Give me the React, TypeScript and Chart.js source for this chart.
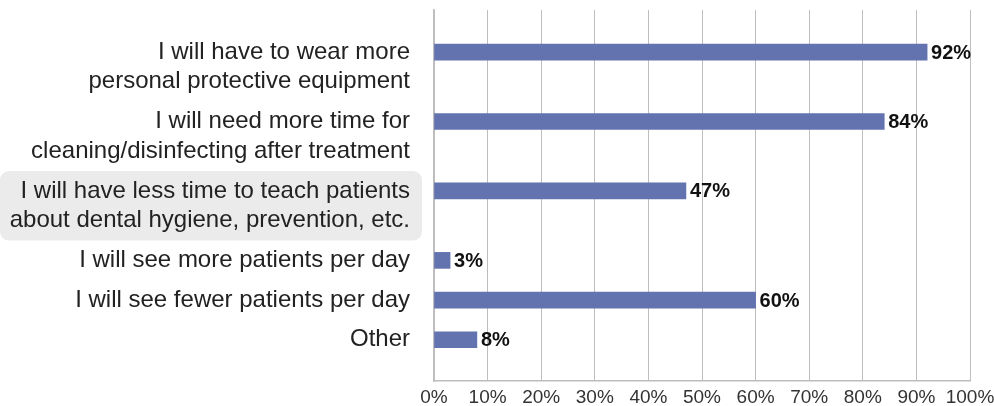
import { useEffect, useRef } from "react";
import { Chart, registerables } from "chart.js";

Chart.register(...registerables);

const categories: string[][] = [
  ["I will have to wear more", "personal protective equipment"],
  ["I will need more time for", "cleaning/disinfecting after treatment"],
  ["I will have less time to teach patients", "about dental hygiene, prevention, etc."],
  ["I will see more patients per day"],
  ["I will see fewer patients per day"],
  ["Other"],
];
const values: number[] = [92, 84, 47, 3, 60, 8];
const xTicks: number[] = [0, 10, 20, 30, 40, 50, 60, 70, 80, 90, 100];
const highlightedIndex = 2;

// layout of label blocks on the y scale (units)
const LINE_STEP = 0.75;
const ROW_STEP = 1;
const firstLinePos: number[] = [];
{
  let acc = 0;
  categories.forEach((c) => {
    firstLinePos.push(acc);
    acc += (c.length - 1) * LINE_STEP + ROW_STEP;
  });
}
const centerPos = categories.map((c, i) => firstLinePos[i] + ((c.length - 1) * LINE_STEP) / 2);
const Y_MIN = -1.06;
const Y_MAX = firstLinePos[firstLinePos.length - 1] + 1.04;

const FONT = "'Liberation Sans', Arial, sans-serif";
const LABEL_SIZE = 24;
const LINE_HEIGHT_PX = 29.8;

export default function App() {
  const ref = useRef<HTMLCanvasElement | null>(null);

  useEffect(() => {
    document.body.style.margin = "0";
    const canvas = ref.current!;
    const highlightPlugin = {
      id: "highlight",
      beforeDraw(chart: any) {
        const y = chart.scales.y;
        const ctx = chart.ctx;
        const lines = categories[highlightedIndex].length;
        const cy = y.getPixelForValue(centerPos[highlightedIndex]);
        const h = lines * LINE_HEIGHT_PX + 10;
        const x0 = 0;
        const x1 = y.right - 12;
        ctx.save();
        ctx.fillStyle = "#ebebeb";
        ctx.beginPath();
        (ctx as any).roundRect(x0, cy - h / 2, x1 - x0, h, 9);
        ctx.fill();
        ctx.restore();
      },
    };
    const valueLabels = {
      id: "valueLabels",
      afterDraw(chart: any) {
        const ctx = chart.ctx;
        const meta = chart.getDatasetMeta(0);
        ctx.save();
        ctx.font = `bold 20px ${FONT}`;
        ctx.fillStyle = "#111";
        ctx.textAlign = "left";
        ctx.textBaseline = "middle";
        meta.data.forEach((bar: any, i: number) => {
          ctx.fillText(values[i] + "%", bar.x + 4, bar.y + 1);
        });
        ctx.restore();
      },
    };

    const chart = new Chart(canvas, {
      type: "bar",
      data: {
        datasets: [
          {
            data: values.map((v, i) => ({ x: v, y: firstLinePos[i] })),
            backgroundColor: "#6373b0",
            barThickness: 16,
          },
        ],
      },
      options: {
        indexAxis: "y",
        animation: false,
        responsive: false,
        layout: { padding: { top: 10, right: 24, left: 0, bottom: 0 } },
        plugins: { legend: { display: false }, tooltip: { enabled: false } },
        scales: {
          x: {
            type: "linear",
            z: 1,
            min: 0,
            max: 100,
            afterBuildTicks: (s: any) => {
              s.ticks = xTicks.map((v) => ({ value: v }));
            },
            afterFit: (s: any) => {
              s.height = 25;
              s.paddingLeft = 0;
              s.paddingRight = 0;
            },
            ticks: {
              callback: (v: any) => v + "%",
              font: { family: FONT, size: 19 },
              color: "#333",
              padding: 5,
              maxRotation: 0,
              autoSkip: false,
            },
            grid: { color: "#bebebe", drawTicks: false, lineWidth: 1 },
            border: { color: "#bdbdbd", width: 1.5 },
          },
          y: {
            type: "linear",
            reverse: true,
            offset: false,
            min: Y_MIN,
            max: Y_MAX,
            afterBuildTicks: (s: any) => {
              s.ticks = centerPos.map((v) => ({ value: v }));
            },
            afterFit: (s: any) => {
              s.width = 434;
              s.paddingTop = 0;
              s.paddingBottom = 0;
            },
            ticks: {
              callback: (_v: any, i: number) => categories[i],
              font: { family: FONT, size: LABEL_SIZE, lineHeight: LINE_HEIGHT_PX / LABEL_SIZE },
              color: "#222",
              padding: 24,
              autoSkip: false,
            },
            grid: { display: false, drawTicks: false, offset: false },
            border: { color: "#bdbdbd", width: 1.5 },
          },
        },
      },
      plugins: [highlightPlugin, valueLabels],
    } as any);
    return () => chart.destroy();
  }, []);

  return (
    <div style={{ width: 994, height: 406 }}>
      <canvas ref={ref} width={994} height={406} style={{ display: "block" }} />
    </div>
  );
}
